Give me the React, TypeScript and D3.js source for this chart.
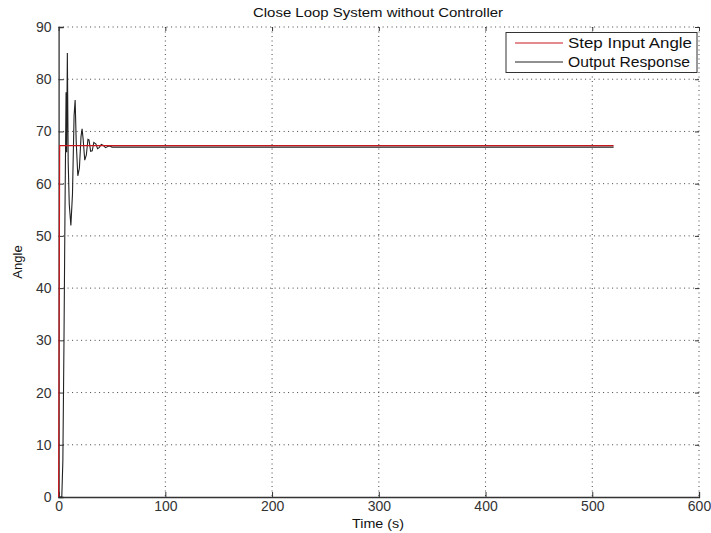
import * as d3 from 'd3';
import { useRef, useEffect } from 'react';

// values
const stepTime: number[] = [0, 1, 520];
const stepAngle: number[] = [0, 67.3, 67.3];

const outTime: number[] = [0, 3, 4, 5, 6, 7, 7.5, 8.2, 9, 10, 11.5, 13, 14.5, 15.5, 16.5, 18, 19.5, 21, 22, 23, 24.5, 26, 27.5, 28.5, 30, 31.5, 33, 35, 36.5, 38, 40, 42, 44, 46, 48, 50, 520];
const outAngle: number[] = [0, 0, 7, 29, 55, 77.5, 66, 85, 64, 56, 52, 58, 73, 76, 68, 61.5, 63, 69, 70.5, 68.5, 64.5, 65.5, 68.5, 68.4, 66.2, 66.3, 67.9, 67.6, 66.7, 66.9, 67.5, 67.3, 66.9, 67.1, 67.2, 67.0, 67.0];

const xTicks: number[] = [0, 100, 200, 300, 400, 500, 600];
const yTicks: number[] = [0, 10, 20, 30, 40, 50, 60, 70, 80, 90];

const seriesNames: string[] = ['Step Input Angle', 'Output Response'];
const seriesColors: string[] = ['#c8181e', '#222222'];

const App = () => {
    const ref = useRef<SVGSVGElement>(null);

    useEffect(() => {
        if (!ref.current) return;
        const root = d3.select(ref.current);
        root.selectAll('*').remove();

        const left = 58.6, right = 699, top = 27, bottom = 497;
        const font = 'Liberation Sans, Arial, sans-serif';

        const x = d3.scaleLinear().domain([0, 600]).range([left, right]);
        const y = d3.scaleLinear().domain([0, 90]).range([bottom, top]);

        // grid
        const grid = root.append('g').attr('stroke', '#444').attr('stroke-width', 1).attr('stroke-dasharray', '1,3.5');
        xTicks.slice(1).forEach(t => {
            grid.append('line').attr('x1', x(t)).attr('x2', x(t)).attr('y1', top).attr('y2', bottom);
        });
        yTicks.slice(1).forEach(t => {
            grid.append('line').attr('x1', left).attr('x2', right).attr('y1', y(t)).attr('y2', y(t));
        });

        // axes with inward ticks
        const bottomAxis = root.append('g').attr('transform', `translate(0,${bottom})`)
            .call(d3.axisBottom(x).tickValues(xTicks).tickSize(-5).tickPadding(4));
        const leftAxis = root.append('g').attr('transform', `translate(${left},0)`)
            .call(d3.axisLeft(y).tickValues(yTicks).tickSize(-5).tickPadding(7));
        root.append('g').attr('transform', `translate(0,${top})`)
            .call(d3.axisTop(x).tickValues(xTicks).tickSize(-4).tickFormat(() => ''))
            .call(g => g.select('.domain').remove());
        root.append('g').attr('transform', `translate(${right},0)`)
            .call(d3.axisRight(y).tickValues(yTicks).tickSize(-4).tickFormat(() => ''))
            .call(g => g.select('.domain').remove());

        [bottomAxis, leftAxis].forEach(a => {
            a.select('.domain').attr('stroke', '#333').attr('stroke-width', 1.3);
            a.selectAll('text').attr('font-family', font).attr('font-size', 14).attr('fill', '#333');
        });
        root.selectAll('.tick line').attr('stroke', '#333');

        // lines
        const line = d3.line<[number, number]>().x(d => x(d[0])).y(d => y(d[1]));
        const stepData = stepTime.map((t, i) => [t, stepAngle[i]] as [number, number]);
        const outData = outTime.map((t, i) => [t, outAngle[i]] as [number, number]);

        root.append('path').datum(outData).attr('d', line)
            .attr('fill', 'none').attr('stroke', seriesColors[1]).attr('stroke-width', 1.1);
        root.append('path').datum(stepData).attr('d', line)
            .attr('fill', 'none').attr('stroke', seriesColors[0]).attr('stroke-width', 1.2);

        // legend
        const lg = root.append('g');
        lg.append('rect').attr('x', 506).attr('y', 32.5).attr('width', 191).attr('height', 40)
            .attr('fill', 'white').attr('stroke', '#333').attr('stroke-width', 1);
        seriesNames.forEach((name, i) => {
            const yy = 43 + i * 19;
            lg.append('line').attr('x1', 515).attr('x2', 563).attr('y1', yy).attr('y2', yy)
                .attr('stroke', seriesColors[i]).attr('stroke-width', 1.1);
            lg.append('text').attr('x', 568).attr('y', yy + 5).text(name)
                .attr('font-family', font).attr('font-size', 14).attr('fill', '#111')
                .attr('textLength', i === 0 ? 124 : 122).attr('lengthAdjust', 'spacingAndGlyphs');
        });

        // titles
        root.append('text').attr('x', 378).attr('y', 17).attr('text-anchor', 'middle')
            .text('Close Loop System without Controller')
            .attr('font-family', font).attr('font-size', 13).attr('fill', '#111')
            .attr('textLength', 250).attr('lengthAdjust', 'spacingAndGlyphs');
        root.append('text').attr('x', 378).attr('y', 528).attr('text-anchor', 'middle')
            .text('Time (s)')
            .attr('font-family', font).attr('font-size', 13).attr('fill', '#111')
            .attr('textLength', 52).attr('lengthAdjust', 'spacingAndGlyphs');
        root.append('text').attr('transform', `translate(22,${(top + bottom) / 2}) rotate(-90)`)
            .attr('text-anchor', 'middle').text('Angle')
            .attr('font-family', font).attr('font-size', 13).attr('fill', '#111');
    }, []);

    return (
        <svg ref={ref} width={711} height={533}
            style={{ position: 'absolute', left: 0, top: 0, background: 'white' }}></svg>
    );
};

export default App;
